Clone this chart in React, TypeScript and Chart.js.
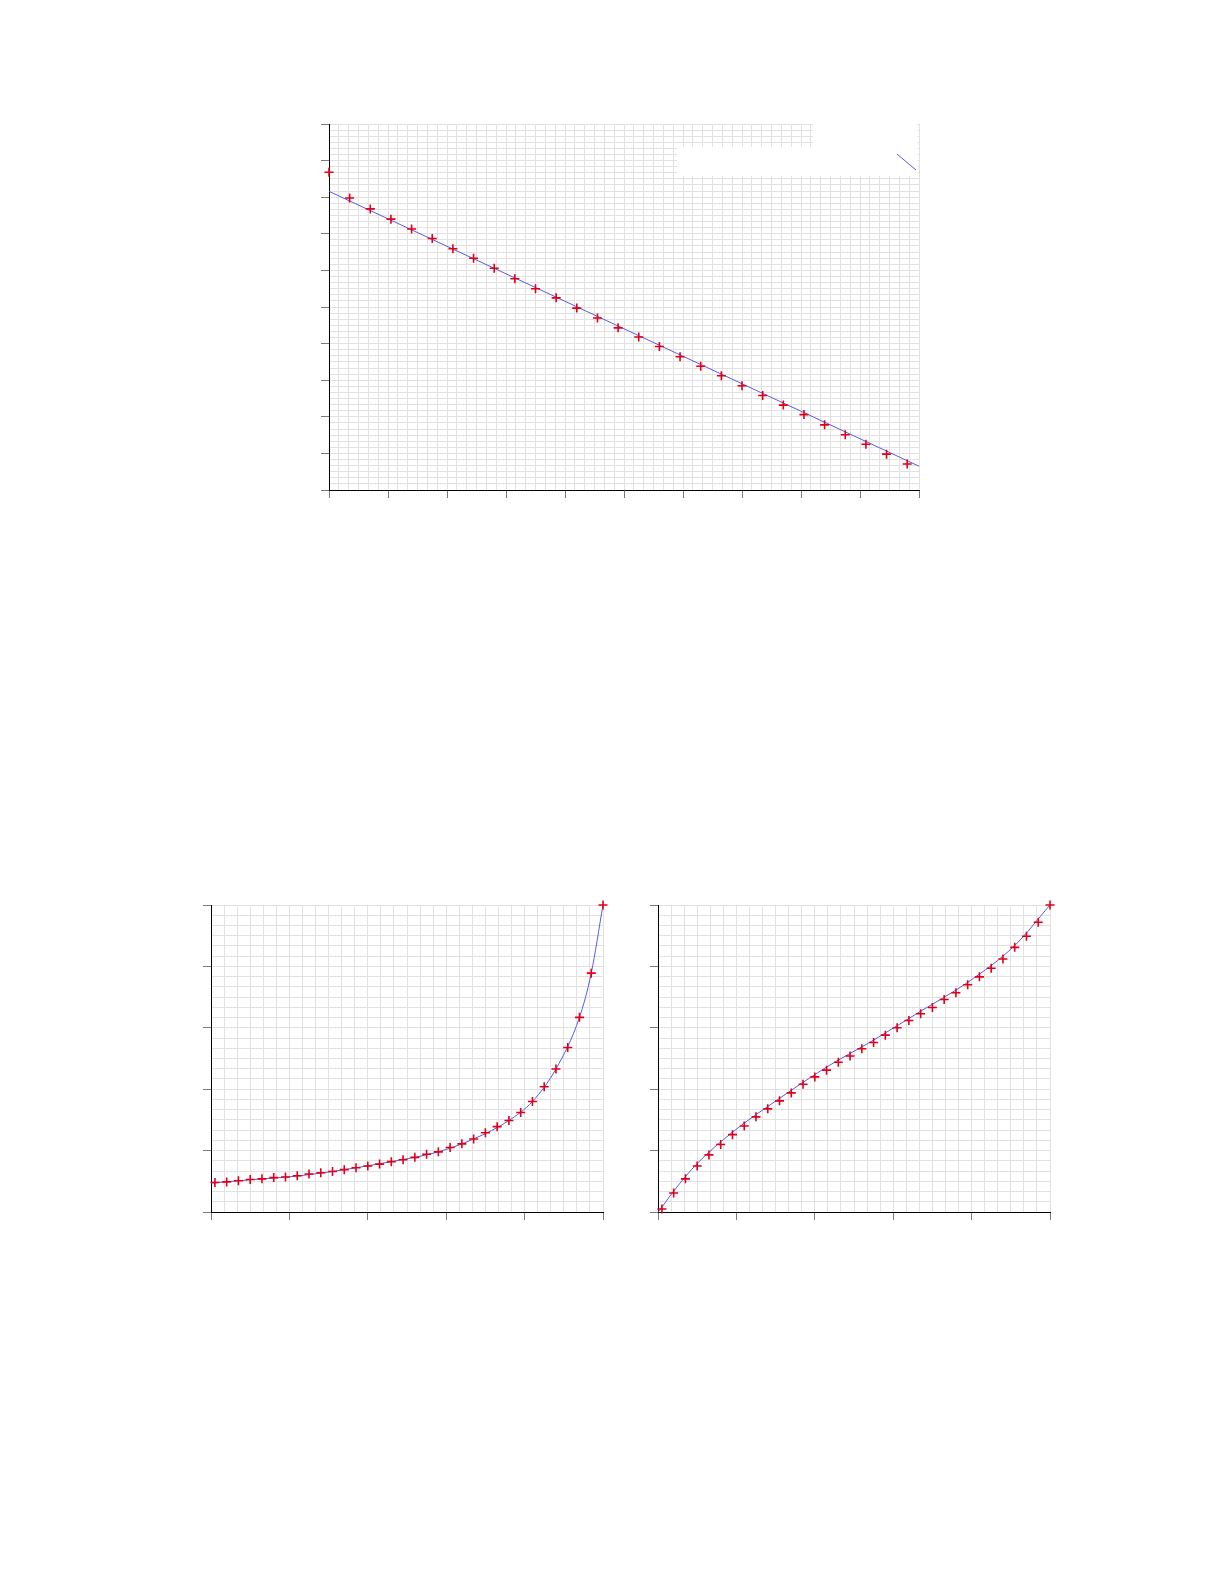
import { useEffect, useRef } from "react";
import { Chart, registerables } from "chart.js";
import type { ChartConfiguration, Plugin, Scale } from "chart.js";

Chart.register(...registerables);

// top chart: measured points + fitted straight line
const topX = [0, 0.35, 0.7, 1.05, 1.4, 1.75, 2.1, 2.45, 2.8, 3.15, 3.5, 3.85, 4.2, 4.55, 4.9, 5.25, 5.6, 5.95, 6.3, 6.65, 7.0, 7.35, 7.7, 8.05, 8.4, 8.75, 9.1, 9.45, 9.8];
const topY = [8.68, 7.98, 7.68, 7.4, 7.13, 6.87, 6.59, 6.33, 6.06, 5.77, 5.5, 5.25, 4.97, 4.7, 4.43, 4.18, 3.92, 3.64, 3.38, 3.12, 2.85, 2.58, 2.32, 2.06, 1.78, 1.51, 1.25, 0.98, 0.71];
const topFitX = [0, 10];
const topFitY = [8.16, 0.65];
const topMajorX = [0, 1, 2, 3, 4, 5, 6, 7, 8, 9, 10];
const topMajorY = [0, 1, 2, 3, 4, 5, 6, 7, 8, 9, 10];

// bottom charts share the x positions of the points
const bottomX = [0.05, 0.2, 0.35, 0.5, 0.65, 0.8, 0.95, 1.1, 1.25, 1.4, 1.55, 1.7, 1.85, 2.0, 2.15, 2.3, 2.45, 2.6, 2.75, 2.9, 3.05, 3.2, 3.35, 3.5, 3.65, 3.8, 3.95, 4.1, 4.25, 4.4, 4.55, 4.7, 4.85, 5.0];
const leftY = [0.48, 0.49, 0.51, 0.53, 0.54, 0.56, 0.57, 0.59, 0.62, 0.64, 0.66, 0.69, 0.72, 0.75, 0.78, 0.82, 0.85, 0.89, 0.94, 0.98, 1.05, 1.11, 1.19, 1.29, 1.39, 1.49, 1.62, 1.8, 2.04, 2.33, 2.68, 3.17, 3.89, 5.0];
const leftCurveX = [0, 0.5, 1.1, 1.7, 2.3, 2.9, 3.35, 3.8, 4.1, 4.4, 4.7, 4.85, 5.0];
const leftCurveY = [0.47, 0.525, 0.585, 0.69, 0.82, 0.98, 1.19, 1.49, 1.8, 2.33, 3.17, 3.89, 5.0];
const rightY = [0.05, 0.31, 0.54, 0.75, 0.93, 1.1, 1.26, 1.4, 1.55, 1.68, 1.81, 1.94, 2.08, 2.2, 2.31, 2.44, 2.54, 2.66, 2.76, 2.88, 3.0, 3.12, 3.23, 3.33, 3.46, 3.57, 3.7, 3.83, 3.97, 4.12, 4.31, 4.49, 4.72, 5.0];
const rightCurveX = [0, 0.05, 0.2, 0.5, 0.95, 1.55, 2.15, 2.75, 3.35, 3.95, 4.55, 5.0];
const rightCurveY = [0, 0.08, 0.34, 0.79, 1.3, 1.85, 2.36, 2.8, 3.27, 3.74, 4.34, 5.0];
const bottomMajor = [0, 1, 2, 3, 4, 5];

const MINOR_DIV = 6;
const GRID = "#e1e1e1";
const TICK = "#7a7a7a";
const RED = "#e0001a";
const BLUE = "#5a5ae6";

const toXY = (xs: number[], ys: number[]) => xs.map((x, i) => ({ x, y: ys[i] }));

// every major step split into 6 minor grid lines; only majors get a tick mark
function withMinor(majors: number[]) {
  const out: { value: number; major: boolean }[] = [];
  for (let i = 0; i < majors.length - 1; i++) {
    const step = (majors[i + 1] - majors[i]) / MINOR_DIV;
    for (let k = 0; k < MINOR_DIV; k++) out.push({ value: majors[i] + k * step, major: k === 0 });
  }
  out.push({ value: majors[majors.length - 1], major: true });
  return out;
}

function axis(majors: number[], position: "bottom" | "left") {
  return {
    type: "linear" as const,
    position,
    min: majors[0],
    max: majors[majors.length - 1],
    afterBuildTicks: (scale: Scale) => {
      scale.ticks = withMinor(majors);
    },
    ticks: { display: false, autoSkip: false },
    grid: {
      color: GRID,
      lineWidth: 1,
      drawTicks: true,
      tickLength: 8,
      tickColor: (ctx: any) => (ctx.tick && ctx.tick.major ? TICK : "rgba(0,0,0,0)"),
    },
    border: { display: true, color: "#000", width: 1 },
  };
}

// white key box (its text never rendered) with the line sample
const keyBox: Plugin = {
  id: "keyBox",
  beforeDatasetsDraw(chart) {
    const { left, top, right, bottom } = chart.chartArea;
    const w = right - left;
    const h = bottom - top;
    const ctx = chart.ctx;
    ctx.save();
    ctx.fillStyle = "#ffffff";
    const ax = left + 0.8203 * w;
    ctx.fillRect(ax, top - 1, right - 1.5 - ax, 0.0628 * h + 1);
    const bx = left + 0.5898 * w;
    ctx.fillRect(bx, top + 0.0628 * h, right - 1.5 - bx, 0.0792 * h);
    ctx.strokeStyle = BLUE;
    ctx.lineWidth = 1;
    ctx.beginPath();
    ctx.moveTo(left + 0.9627 * w, top + 0.082 * h);
    ctx.lineTo(left + 0.9949 * w, top + 0.1257 * h);
    ctx.stroke();
    ctx.restore();
  },
};

function makeConfig(
  points: { x: number; y: number }[],
  curve: { x: number; y: number }[],
  majorsX: number[],
  majorsY: number[],
  smooth: boolean,
  plugins: Plugin[]
): ChartConfiguration {
  return {
    type: "scatter",
    data: {
      datasets: [
        {
          data: points,
          showLine: false,
          pointStyle: "cross",
          pointRadius: 4.5,
          pointBorderColor: RED,
          pointBackgroundColor: RED,
          pointBorderWidth: 1.6,
          clip: false,
        },
        {
          data: curve,
          showLine: true,
          borderColor: BLUE,
          borderWidth: 1,
          pointRadius: 0,
          cubicInterpolationMode: smooth ? "monotone" : "default",
          tension: 0,
        } as any,
      ],
    },
    options: {
      responsive: false,
      animation: false,
      events: [],
      layout: { padding: { top: 10, right: 10, left: 0, bottom: 0 } },
      plugins: { legend: { display: false }, tooltip: { enabled: false } },
      scales: {
        x: axis(majorsX, "bottom"),
        y: axis(majorsY, "left"),
      } as any,
    },
    plugins,
  };
}

function Plot({
  config,
  left,
  top,
  width,
  height,
}: {
  config: () => ChartConfiguration;
  left: number;
  top: number;
  width: number;
  height: number;
}) {
  const ref = useRef<HTMLCanvasElement | null>(null);
  useEffect(() => {
    if (!ref.current) return;
    const chart = new Chart(ref.current, config());
    return () => chart.destroy();
  }, []);
  return (
    <div style={{ position: "absolute", left, top, width, height }}>
      <canvas ref={ref} width={width} height={height} />
    </div>
  );
}

export default function App() {
  return (
    <div style={{ background: "#fff" }}>
      <Plot
        left={321}
        top={114}
        width={608}
        height={384}
        config={() =>
          makeConfig(toXY(topX, topY), toXY(topFitX, topFitY), topMajorX, topMajorY, false, [keyBox])
        }
      />
      <Plot
        left={203}
        top={895}
        width={410}
        height={325}
        config={() =>
          makeConfig(toXY(bottomX, leftY), toXY(leftCurveX, leftCurveY), bottomMajor, bottomMajor, true, [])
        }
      />
      <Plot
        left={650}
        top={895}
        width={410}
        height={325}
        config={() =>
          makeConfig(toXY(bottomX, rightY), toXY(rightCurveX, rightCurveY), bottomMajor, bottomMajor, true, [])
        }
      />
    </div>
  );
}
